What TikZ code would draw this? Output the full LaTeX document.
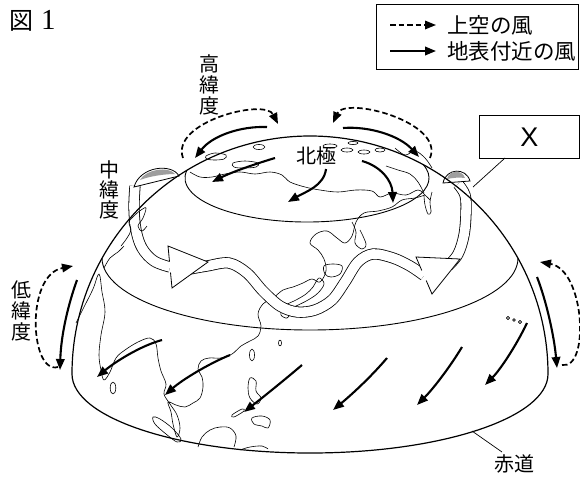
\documentclass[tikz,border=0pt]{standalone}
\usepackage{fontspec}
\newfontfamily\jp{Noto Sans CJK JP}
\newfontfamily\lsans{Liberation Sans}
\newfontfamily\lserif{Liberation Serif}
\usetikzlibrary{arrows.meta}
\begin{document}
\begin{tikzpicture}[x=1pt,y=-1pt,
  wsurf/.style={line width=2.1pt, -{Triangle[length=11pt,width=8.5pt]}},
  wup/.style={line width=1.7pt, dash pattern=on 5.5pt off 3pt, -{Triangle[length=11pt,width=8.5pt]}},
  coastln/.style={line width=0.6pt, line join=round},
  ribn/.style={line width=0.8pt, double=white, double distance=9.6pt},
  rhead/.style={fill=white, draw=black, line width=0.8pt, line join=miter},
  latln/.style={line width=0.9pt},
  capgray/.style={fill=black!38},
  jlabel/.style={font=\jp\fontsize{20}{21}\selectfont, inner sep=0pt, align=center}]
\fill[white] (0,0) rectangle (580,477);
\useasboundingbox (0,0) rectangle (580,477);

% ---------- coastlines (under the jet ribbon) ----------
\draw[coastln] plot[smooth, tension=0.6] coordinates {(76,323) (84,307) (93,289) (99,274) (102,292) (105,312) (101,335) (99,355) (101,370) (104,380) (110,372) (116,358) (125,350) (138,342) (150,338) (156,344) (158,358) (161,371) (166,384) (164,394) (170,404) (177,415) (180,428) (177,437) (173,424) (171,412) (168,402) (176,405) (185,407) (193,403) (200,398) (203,387) (202,377) (198,369) (201,361) (209,358) (221,358) (232,354) (241,346) (250,341) (258,336) (261,326) (258,314) (263,304) (273,298) (283,290) (293,287) (303,283) (312,279) (320,282) (326,271) (324,259) (318,250) (310,243) (316,234) (327,231) (337,238) (345,243) (352,236) (356,222) (364,213) (378,211) (392,207) (402,200) (415,198) (425,195)};
\draw[coastln] plot[smooth, tension=0.6] coordinates {(190,172) (200,177) (212,177) (225,174) (240,172) (255,174) (270,172) (282,175) (290,182) (305,187) (320,190) (338,192) (356,190) (372,191) (380,197) (392,193) (406,195) (418,190) (425,195) (430,200)};
\draw[coastln] plot[smooth, tension=0.6] coordinates {(424,196) (425,205) (428,214) (431,212) (430,202) (432,192)};
\draw[coastln] plot[smooth, tension=0.6] coordinates {(386,166) (398,170) (410,174) (418,182) (424,193)};
\draw[coastln] plot[smooth, tension=0.6] coordinates {(395,148) (405,155) (415,151) (425,158) (432,168)};
\draw[coastln] plot[smooth, tension=0.6] coordinates {(352,222) (356,232) (355,243) (362,249) (366,244) (360,230)};
\draw[coastln] plot[smooth, tension=0.6] coordinates {(104,268) (110,258) (118,252) (124,246)};
% arctic islands
\draw[coastln] (259,147) ellipse [x radius=6, y radius=2.5];
\draw[coastln] plot[smooth cycle, tension=0.6] coordinates {(233,163) (245,161) (258,163) (256,167) (243,168) (234,167)};
\draw[coastln] plot[smooth cycle, tension=0.6] coordinates {(206,156) (215,153) (226,155) (224,159) (214,160) (207,159)};
\draw[coastln] (330,146) ellipse [x radius=7, y radius=2];
\draw[coastln] (347,150) ellipse [x radius=6, y radius=2];
\draw[coastln] (364,152) ellipse [x radius=6, y radius=2];
\draw[coastln] (380,150) ellipse [x radius=5, y radius=2];
\draw[coastln] (353,143) ellipse [x radius=5, y radius=1.6];
% Japan
\draw[coastln] plot[smooth cycle, tension=0.6] coordinates {(324,266) (333,264) (342,266) (340,274) (331,277) (325,274)};
\draw[coastln] plot[smooth cycle, tension=0.6] coordinates {(320,278) (324,284) (318,293) (308,300) (296,306) (288,309) (286,305) (296,300) (306,294) (313,287) (317,280)};
\draw[coastln] plot[smooth cycle, tension=0.6] coordinates {(283,309) (290,312) (287,318) (281,315)};
% south-east asian islands
\draw[coastln] (113,388) ellipse [x radius=2.8, y radius=6];
\draw[coastln] (252,355) ellipse [x radius=2.5, y radius=6];
\draw[coastln] plot[smooth cycle, tension=0.6] coordinates {(250,378) (256,381) (256,391) (261,398) (257,404) (250,398) (248,388)};
\draw[coastln] plot[smooth cycle, tension=0.6] coordinates {(252,418) (262,416) (270,420) (268,428) (262,426) (254,424)};
\draw[coastln] plot[smooth cycle, tension=0.6] coordinates {(232,415) (242,409) (244,411) (234,417)};
\draw[coastln] plot[smooth cycle, tension=0.6] coordinates {(153,417) (160,419) (172,428) (181,439) (177,442) (166,434) (155,424)};
\draw[coastln] plot[smooth, tension=0.6] coordinates {(198,447) (202,437) (210,430) (220,427) (230,428) (236,436) (234,447)};
\draw[coastln] plot[smooth, tension=0.6] coordinates {(240,450) (250,447) (262,446) (268,449)};
\draw[coastln] (280,343) ellipse [x radius=1.5, y radius=3];
\draw[coastln] (508,318) circle [radius=1.6];
\draw[coastln] (514,320) circle [radius=1.4];
\draw[coastln] (520,322) circle [radius=1.6];

% ---------- latitude lines ----------
\draw[latln] (423.03,164.40) arc[start angle=-18, end angle=190, x radius=122, y radius=44];
\draw[latln] (518,258) arc[start angle=0, end angle=180, x radius=208, y radius=72];

% ---------- jet stream ribbon ----------
\draw[ribn] plot[smooth, tension=0.6] coordinates {(448,266) (458,254) (464,235) (466,212) (465,195) (458,184)};
\filldraw[rhead] (443,183) .. controls (446,168) and (466,167) .. (470,181) -- cycle;
\fill[capgray] (447,179) .. controls (449,170) and (462,169) .. (465,178) .. controls (459,177) and (452,178) .. (447,179) -- cycle;

\draw[ribn] plot[smooth, tension=0.55] coordinates {(190,269) (207,266) (229,263) (247,273) (263,291) (280,306) (297,312) (315,310) (332,300) (345,282) (358,262) (373,254) (393,258) (410,266) (424,275.5)};
\filldraw[rhead] (421.8,270.5) -- (416,257) -- (460,259) -- (432,294) -- (426.2,280.5);

\draw[ribn] plot[smooth, tension=0.6] coordinates {(135,186) (134,208) (136,230) (142,248) (154,261) (170,267)};
\filldraw[rhead] (169.5,261.5) -- (168,246) -- (208,262) -- (172,288) -- (170.5,272.5);
\filldraw[rhead] (134,187) .. controls (140,166) and (172,163) .. (179,176) -- cycle;
\fill[capgray] (140,180) .. controls (146,169) and (169,166) .. (175,174) .. controls (165,174) and (150,176) .. (140,180) -- cycle;
\draw[coastln] plot[smooth, tension=0.6] coordinates {(121,246) (127,238) (131,230) (129,222) (135,215) (141,210) (146,208) (143,218) (138,226) (142,231) (147,226)};

% ---------- globe outline ----------
\draw[line width=1.2pt] (72,374) arc[start angle=180, end angle=360, radius=238] arc[start angle=0, end angle=180, x radius=238, y radius=79];

% ---------- winds: high latitudes ----------
\draw[wsurf] (267,127) .. controls (240,126) and (212,136) .. (195,158);
\draw[wup] (183,158) .. controls (170,122) and (265,98) .. (278,124);
\draw[wsurf] (343,128) .. controls (370,126) and (400,136) .. (419,157);
\draw[wup] (430,158) .. controls (445,122) and (345,96) .. (333,123);
% polar region
\draw[wsurf] (275,158) .. controls (255,164) and (232,172) .. (212,182);
\draw[wsurf] (326,169) .. controls (324,186) and (305,192) .. (288,202);
\draw[wsurf] (362,161) .. controls (380,166) and (392,180) .. (393,203);
% ---------- winds: low latitudes ----------
\draw[wsurf] (162,340) .. controls (140,346) and (115,362) .. (97,377);
\draw[wsurf] (230,355) .. controls (208,364) and (182,380) .. (165,395);
\draw[wsurf] (302,365) .. controls (282,382) and (262,398) .. (244,412);
\draw[wsurf] (387,358) .. controls (370,378) and (350,396) .. (333,410);
\draw[wsurf] (462,347) .. controls (448,370) and (432,390) .. (417,405);
\draw[wsurf] (527,323) .. controls (516,346) and (500,370) .. (485,385);
\draw[wsurf] (77,280) .. controls (68,305) and (61,335) .. (60,370);
\draw[wup] (58,367) .. controls (30,375) and (25,275) .. (73,266);
\draw[wsurf] (537,277) .. controls (546,300) and (554,335) .. (557,368);
\draw[wup] (562,365) .. controls (590,370) and (585,270) .. (540,262);

% ---------- labels ----------
\node[anchor=west, inner sep=0pt] (title) at (9,21) {\jp\fontsize{24}{24}\selectfont 図\hspace{8pt}\lserif\fontsize{29}{29}\selectfont 1};
\node[jlabel] (high) at (209,85) {高\\緯\\度};
\node[jlabel, font=\jp\fontsize{20}{20}\selectfont] (mid) at (109,190) {中\\緯\\度};
\node[jlabel] (low) at (21,311) {低\\緯\\度};
\node[jlabel] (pole) at (316,156) {北極};
\node[jlabel] (equator) at (514,464) {赤道};
\coordinate (eqpt) at (472,431);
\coordinate (eqlab) at (502,452);
\draw[line width=0.7pt] (eqlab) -- (eqpt);

% X box
\node[draw, line width=0.9pt, minimum width=100pt, minimum height=43pt, anchor=north west, inner sep=0pt, font=\lsans\fontsize{27}{27}\selectfont] (xbox) at (479,115) {X};
\coordinate (xfoot) at (505,158);
\coordinate (xjet) at (473,187);
\draw[line width=0.7pt] (xfoot) -- (xjet);

% legend
\node[draw, line width=0.9pt, minimum width=202pt, minimum height=65pt, anchor=north west, inner sep=0pt] (legend) at (376,4) {};
\coordinate (l1s) at (390,25);
\coordinate (l1e) at (436,25);
\coordinate (l2s) at (390,51);
\coordinate (l2e) at (436,51);
\draw[wup] (l1s) -- (l1e);
\draw[wsurf] (l2s) -- (l2e);
\node[anchor=west, inner sep=0pt, font=\jp\fontsize{21.5}{21.5}\selectfont] (t1) at (447,25) {上空の風};
\node[anchor=west, inner sep=0pt, font=\jp\fontsize{21.5}{21.5}\selectfont] (t2) at (447,51) {地表付近の風};
\end{tikzpicture}
\end{document}
